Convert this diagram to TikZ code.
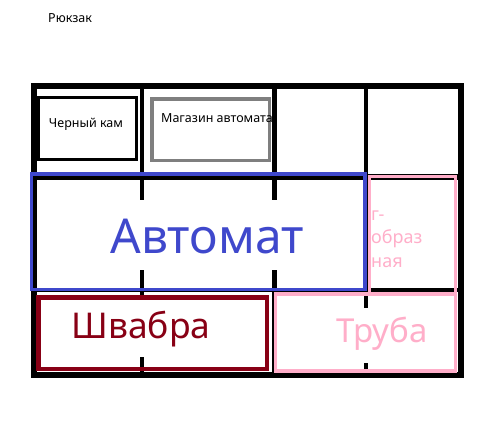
\documentclass[tikz,border=0pt]{standalone}
\usepackage{fontspec}
\setmainfont{Noto Sans}
\usetikzlibrary{positioning}
\definecolor{avtblue}{HTML}{3F48CC}
\definecolor{shvred}{HTML}{880015}
\definecolor{trpink}{HTML}{FFAEC9}
\definecolor{maggray}{HTML}{7F7F7F}
\tikzstyle{grid} = [draw=black, line width=5pt]
\tikzstyle{item} = [rectangle, inner sep=0pt, outer sep=0pt, fill=white]
\tikzstyle{mask} = [rectangle, inner sep=0pt, fill=white]
\tikzstyle{small} = [inner sep=0pt, anchor=base west, font=\fontsize{12.5}{15}\selectfont]

\begin{document}
\begin{tikzpicture}[x=1pt, y=-1pt]
    \useasboundingbox (0,0) rectangle (500,447);
    \node (title) [small] at (48,22) {Рюкзак};
    % grid of the backpack
    \draw [grid, line width=6pt] (34,86) rectangle (460.5,375);
    \draw [grid, line width=4pt] (142,86)--(142,375);
    \draw [grid] (274,86)--(274,375);
    \draw [grid, line width=4pt] (366,86)--(366,375);
    \draw [grid, line width=6pt] (34,176.5)--(460.5,176.5);
    \draw [grid, line width=4.5pt] (34,290)--(460.5,290);
    % top row
    \node (kam) [item, draw=black, line width=3pt, minimum width=98pt, minimum height=62pt] at (87.5,128.5) {};
    \node (kamtext) [small, anchor=base] at (86,127) {Черный кам};
    \node (mag) [item, draw=maggray, line width=3.5pt, minimum width=117.5pt, minimum height=61.5pt] at (210.5,129.5) {};
    \node (magtext) [small] at (161,122) {Магазин автомата};
    % big items
    \node (avt) [rectangle, draw=avtblue, line width=3.5pt, minimum width=333.5pt, minimum height=115.5pt] at (198.25,231.75) {};
    \node (avtmask) [mask, minimum width=322pt, minimum height=70pt] at (198,235) {};
    \node (avttext) [text=avtblue, font=\fontsize{48}{48}\selectfont] at (207,237) {Автомат};
    \node (shv) [rectangle, draw=shvred, line width=4.5pt, minimum width=228.5pt, minimum height=71.5pt] at (152.5,333) {};
    \node (shvmask) [mask, minimum width=222pt, minimum height=57pt] at (153,328.5) {};
    \node (shvtext) [text=shvred, font=\fontsize{35.5}{36}\selectfont] at (141,329.5) {Швабра};
    \node (gobr) [rectangle, draw=trpink, line width=3.5pt, minimum width=86pt, minimum height=117.5pt] at (412.5,235.25) {};
    \node (gobrtext) [inner sep=0pt, anchor=base west, align=left, text=trpink, font=\fontsize{18}{23.5}\selectfont] at (371,267) {г-\\образ\\ная};
    \node (tr) [rectangle, draw=trpink, line width=3.5pt, minimum width=180pt, minimum height=77pt] at (365.5,332.5) {};
    \node (trmask) [mask, minimum width=172pt, minimum height=55pt] at (365.5,335.5) {};
    \node (trtext) [text=trpink, font=\fontsize{33}{33}\selectfont] at (382,334) {Труба};
\end{tikzpicture}
\end{document}
